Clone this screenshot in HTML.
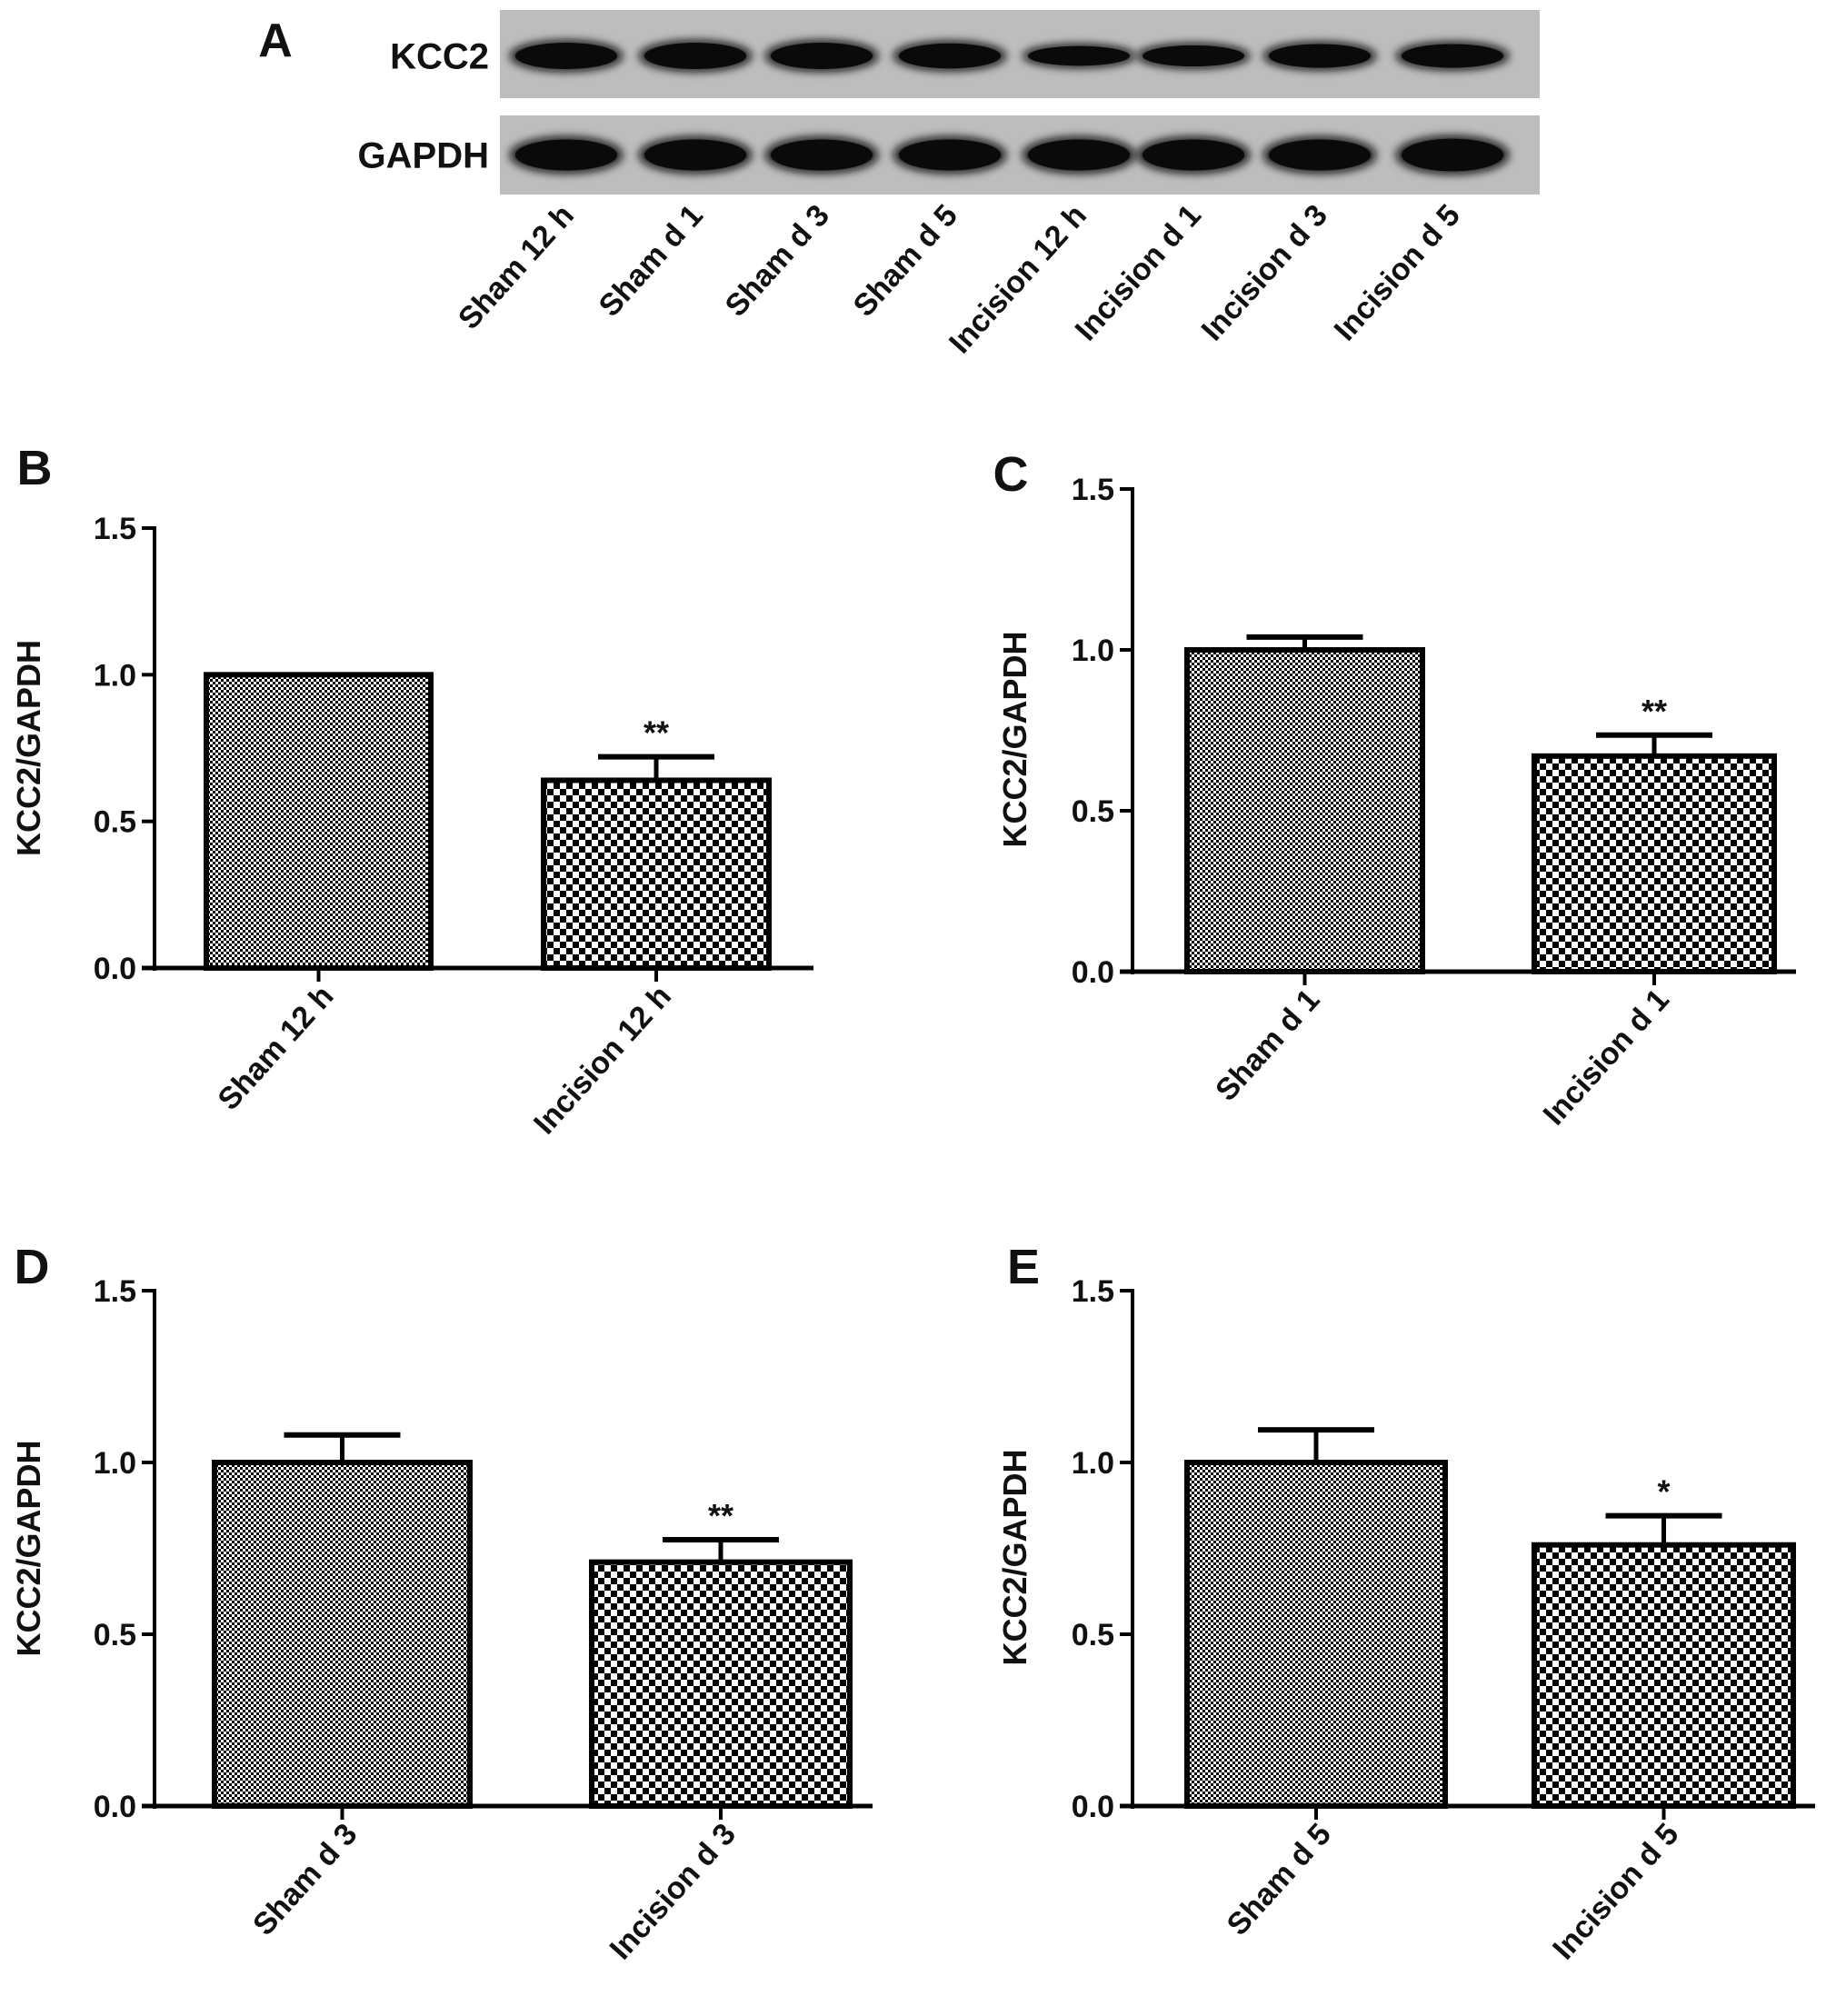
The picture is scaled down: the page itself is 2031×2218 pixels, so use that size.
<!DOCTYPE html>
<html><head><meta charset="utf-8">
<style>
html,body{margin:0;padding:0;background:#fff;}
svg{display:block;font-family:"Liberation Sans",Arial,sans-serif;font-weight:bold;}
</style></head>
<body>
<svg id="fig" width="2031" height="2218" viewBox="0 0 2031 2218" xmlns="http://www.w3.org/2000/svg">
<defs>
<pattern id="fine" width="6" height="6" patternUnits="userSpaceOnUse">
<rect width="6" height="6" fill="#fff"/><rect width="3" height="3" fill="#000"/><rect x="3" y="3" width="3" height="3" fill="#000"/>
</pattern>
<pattern id="coarse" width="14" height="14" patternUnits="userSpaceOnUse">
<rect width="14" height="14" fill="#fff"/><rect width="7" height="7" fill="#000"/><rect x="7" y="7" width="7" height="7" fill="#000"/>
</pattern>
<filter id="blur" x="-30%" y="-80%" width="160%" height="260%"><feGaussianBlur stdDeviation="5"/></filter>
</defs>
<g id="blot"></g>
<g id="charts"></g>
</svg>
<script>
const NS='http://www.w3.org/2000/svg';
function mk(tag,attrs,parent){const e=document.createElementNS(NS,tag);for(const k in attrs)e.setAttribute(k,attrs[k]);if(parent)parent.appendChild(e);return e;}

// ---- Panel A data ----
const laneLabels=['Sham 12 h','Sham d 1','Sham d 3','Sham d 5','Incision 12 h','Incision d 1','Incision d 3','Incision d 5'];
const kccBand=[1.0,1.0,1.0,0.95,0.75,0.8,0.9,0.9];
const gapdhBand=[1.0,1.0,1.0,1.0,1.0,1.0,1.0,1.05];

// ---- Bar chart data ----
const panelLetters=['B','C','D','E'];
const panelCats=[['Sham 12 h','Incision 12 h'],['Sham d 1','Incision d 1'],['Sham d 3','Incision d 3'],['Sham d 5','Incision d 5']];
const panelValues=[[1.0,0.64],[1.0,0.67],[1.0,0.71],[1.0,0.76]];
const panelErrors=[[0.0,0.08],[0.04,0.065],[0.08,0.065],[0.095,0.085]];
const panelSig=[['','**'],['','**'],['','**'],['','*']];
const yTicks=[0,0.5,1.0,1.5];
const yTickLabels=['0.0','0.5','1.0','1.5'];

// layout (not data)
const layouts=[
 {ax:170,y0:1065,y1:581,xr:895,bars:[[227,474],[598,846]],title:31,letter:[38,533]},
 {ax:1246,y0:1069,y1:538,xr:1976,bars:[[1306,1565],[1688,1952]],title:1116,letter:[1112,540]},
 {ax:170,y0:1987,y1:1420,xr:960,bars:[[236,517],[651,935]],title:31,letter:[35,1412]},
 {ax:1246,y0:1987,y1:1420,xr:1997,bars:[[1306,1590],[1688,1973]],title:1116,letter:[1126,1412]}
];

// ---- draw blot ----
const blot=document.getElementById('blot');
let t=mk('text',{x:303,y:62,'font-size':52,'text-anchor':'middle',fill:'#111'},blot);t.textContent='A';

const strips=[{y:11,h:97,label:'KCC2',vals:kccBand,bh:34,name:'kcc2'},{y:127,h:87,label:'GAPDH',vals:gapdhBand,bh:40,name:'gapdh'}];
const laneX=[623,765,904,1045,1187,1313,1452,1598];
strips.forEach(s=>{
  const g=mk('g',{},blot);
  
  
  mk('rect',{x:550,y:s.y,width:1144,height:s.h,fill:'#bdbdbd'},g);
  const cy=s.y+s.h/2+(s.name==='kcc2'?2:0);
  s.vals.forEach((v,i)=>{
    const b=mk('ellipse',{cx:laneX[i],cy:cy,rx:62,ry:s.bh/2*v,fill:'#0a0a0a',filter:'url(#blur)'},g);
    
    
    mk('ellipse',{cx:laneX[i],cy:cy,rx:56,ry:s.bh/2*v*0.85,fill:'#0a0a0a'},g);
  });
  const l=mk('text',{x:538,y:cy+14,'font-size':40,'text-anchor':'end',fill:'#111'},g);
  l.textContent=s.label;
  
  
});
laneLabels.forEach((lab,i)=>{
  const x=laneX[i]+10,y=238;
  const e=mk('text',{x:x,y:y,'font-size':34,'text-anchor':'end',fill:'#111',transform:`rotate(-48 ${x} ${y})`},blot);
  e.textContent=lab;
  
  
});

// ---- draw bar charts ----
const charts=document.getElementById('charts');
panelLetters.forEach((L,p)=>{
  const lay=layouts[p];
  const g=mk('g',{},charts);
  
  
  const ys=v=>lay.y0-(v/1.5)*(lay.y0-lay.y1);
  let e=mk('text',{x:lay.letter[0],y:lay.letter[1],'font-size':54,'text-anchor':'middle',fill:'#111'},g);
  e.textContent=L;
  
  
  const cy=(lay.y0+lay.y1)/2+(p%2===1?10:0);
  e=mk('text',{x:lay.title+13,y:cy,'font-size':36,'text-anchor':'middle',fill:'#111',transform:`rotate(-90 ${lay.title+13} ${cy})`},g);
  e.textContent='KCC2/GAPDH';
  
  
  panelValues[p].forEach((v,i)=>{
    const [x0,x1]=lay.bars[i];const top=ys(v);const cx=(x0+x1)/2;
    const err=panelErrors[p][i];
    if(err>0){
      const ey=ys(v+err);
      const el=mk('line',{x1:cx,y1:top,x2:cx,y2:ey,stroke:'#000','stroke-width':5},g);
      
      
      mk('line',{x1:cx-64,y1:ey,x2:cx+64,y2:ey,stroke:'#000','stroke-width':6},g);
    }
    const r=mk('rect',{x:x0,y:top,width:x1-x0,height:lay.y0-top,fill:i===0?'url(#fine)':'url(#coarse)',stroke:'#000','stroke-width':6},g);
    
    
    if(panelSig[p][i]){
      const s=mk('text',{x:cx,y:ys(v+err)-14,'font-size':36,'text-anchor':'middle',fill:'#111'},g);
      s.textContent=panelSig[p][i];
      
      
    }
    mk('line',{x1:cx,y1:lay.y0,x2:cx,y2:lay.y0+15,stroke:'#000','stroke-width':4},g);
    const lx=cx+18,ly=lay.y0+32;
    const tl=mk('text',{x:lx,y:ly,'font-size':34,'text-anchor':'end',fill:'#111',transform:`rotate(-48 ${lx} ${ly})`},g);
    tl.textContent=panelCats[p][i];
    
    
  });
  e=mk('line',{x1:lay.ax,y1:lay.y1-2,x2:lay.ax,y2:lay.y0+3,stroke:'#000','stroke-width':4},g);
  
  
  e=mk('line',{x1:lay.ax-14,y1:lay.y0,x2:lay.xr,y2:lay.y0,stroke:'#000','stroke-width':5},g);
  
  
  yTicks.forEach((v,k)=>{
    const y=ys(v);
    mk('line',{x1:lay.ax-14,y1:y,x2:lay.ax,y2:y,stroke:'#000','stroke-width':4},g);
    const tx=mk('text',{x:lay.ax-20,y:y+12,'font-size':34,'text-anchor':'end',fill:'#111'},g);
    tx.textContent=yTickLabels[k];
    
    
  });
});
</script>
</body></html>
